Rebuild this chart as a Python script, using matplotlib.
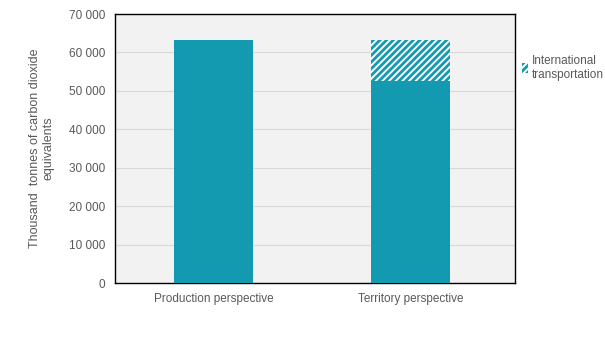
import matplotlib.pyplot as plt
from matplotlib.ticker import FuncFormatter

# -----------------------------
# Data
# -----------------------------
categories = ["Production perspective", "Territory perspective"]
domestic = [63300, 52600]
international = [0, 10700]
legend_label = "International\ntransportation"

TEAL = "#1399B0"
TEXT = "#595959"

plt.rcParams["font.family"] = ["Liberation Sans", "DejaVu Sans"]
plt.rcParams["hatch.linewidth"] = 2.0
plt.rcParams["hatch.color"] = TEAL

# -----------------------------
# Plot
# -----------------------------
fig = plt.figure(figsize=(6.05, 3.52), dpi=100)
ax = fig.add_axes([0.190, 0.196, 0.661, 0.764])
ax.set_facecolor("#F2F2F2")

x = list(range(len(categories)))
ax.bar(x, domestic, width=0.4, color=TEAL, zorder=3)
ax.bar(x, international, width=0.4, bottom=domestic, color="white",
       hatch="/////", edgecolor=TEAL, linewidth=0, zorder=3,
       label=legend_label)

ax.set_xlim(-0.5, 1.53)
ax.set_ylim(0, 70000)
ax.set_yticks(range(0, 70001, 10000))
ax.yaxis.set_major_formatter(FuncFormatter(lambda v, p: f"{int(v):,}".replace(",", " ")))
ax.set_xticks(x)
ax.set_xticklabels(categories)
ax.tick_params(length=0, labelsize=8.5, colors=TEXT, pad=7)
ax.grid(axis="y", color="#D9D9D9", linewidth=0.8, zorder=0)

for s in ax.spines.values():
    s.set_color("black")
    s.set_linewidth(1)

ax.set_ylabel("Thousand  tonnes of carbon dioxide\nequivalents", fontsize=9,
              color=TEXT, labelpad=10, linespacing=1.2)

leg = ax.legend(loc="upper left", bbox_to_anchor=(1.0, 0.875), frameon=False,
                fontsize=8.5, handlelength=0.5, handleheight=0.9,
                handletextpad=0.3, borderaxespad=0.2)
for t in leg.get_texts():
    t.set_color(TEXT)

fig.savefig("out.png", dpi=100)
